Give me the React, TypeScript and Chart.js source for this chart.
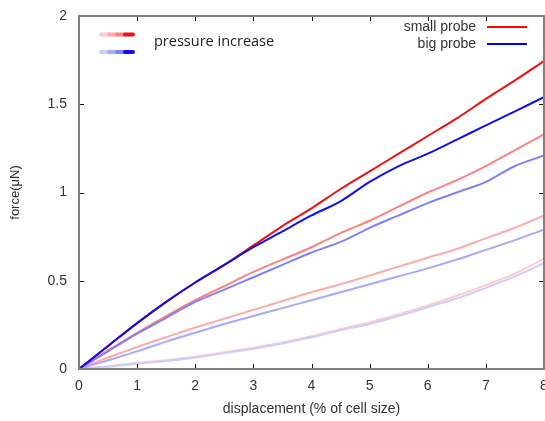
import { useEffect, useRef } from "react";
import { Chart, registerables } from "chart.js";

Chart.register(...registerables);

const displacement = [0, 0.5, 1, 1.5, 2, 2.5, 3, 3.5, 4, 4.5, 5, 5.5, 6, 6.5, 7, 7.5, 8];

// small probe (red), pressure levels 1 (lowest) .. 4 (highest)
const smallP4 = [0, 0.13, 0.26, 0.38, 0.49, 0.59, 0.7, 0.81, 0.91, 1.02, 1.12, 1.22, 1.32, 1.42, 1.53, 1.635, 1.745];
const smallP3 = [0, 0.105, 0.205, 0.3, 0.39, 0.47, 0.55, 0.62, 0.69, 0.77, 0.84, 0.92, 1.0, 1.07, 1.15, 1.24, 1.33];
const smallP2 = [0, 0.065, 0.125, 0.18, 0.235, 0.285, 0.335, 0.385, 0.435, 0.48, 0.53, 0.58, 0.63, 0.68, 0.74, 0.8, 0.87];
const smallP1 = [0, 0.015, 0.035, 0.05, 0.07, 0.095, 0.12, 0.15, 0.185, 0.225, 0.265, 0.31, 0.36, 0.415, 0.475, 0.54, 0.625];

// big probe (blue)
const bigP4 = [0, 0.13, 0.26, 0.38, 0.49, 0.59, 0.69, 0.78, 0.87, 0.95, 1.06, 1.15, 1.22, 1.3, 1.38, 1.46, 1.54];
const bigP3 = [0, 0.1, 0.2, 0.29, 0.38, 0.45, 0.52, 0.59, 0.66, 0.72, 0.8, 0.87, 0.94, 1.0, 1.06, 1.15, 1.21];
const bigP2 = [0, 0.05, 0.1, 0.155, 0.205, 0.255, 0.3, 0.345, 0.39, 0.435, 0.48, 0.525, 0.57, 0.62, 0.675, 0.73, 0.79];
const bigP1 = [0, 0.013, 0.03, 0.045, 0.065, 0.09, 0.115, 0.145, 0.18, 0.22, 0.255, 0.3, 0.35, 0.4, 0.46, 0.525, 0.6];

const xTicks = [0, 1, 2, 3, 4, 5, 6, 7, 8];
const yTicks = [0, 0.5, 1, 1.5, 2];

const redShades = ["#ffcccc", "#ffaaaa", "#ff8080", "#f01010"];
const blueShades = ["#ccccff", "#a8a8ff", "#8080ff", "#1010ee"];

const FONT = "'Liberation Sans', Arial, sans-serif";

const toPts = (ys: number[]) => ys.map((y, i) => ({ x: displacement[i], y }));

const framePlugin = {
  id: "frame",
  afterDatasetsDraw(chart: any) {
    const { ctx, chartArea: a, scales } = chart;
    const xs = scales.x;
    const ys = scales.y;
    ctx.save();
    ctx.strokeStyle = "#111";
    ctx.lineWidth = 1;
    ctx.beginPath();
    xTicks.forEach((t) => {
      const px = Math.round(xs.getPixelForValue(t)) + 0.5;
      ctx.moveTo(px, a.bottom);
      ctx.lineTo(px, a.bottom - 5);
      ctx.moveTo(px, a.top);
      ctx.lineTo(px, a.top + 5);
    });
    yTicks.forEach((t) => {
      const py = Math.round(ys.getPixelForValue(t)) + 0.5;
      ctx.moveTo(a.left, py);
      ctx.lineTo(a.left + 5, py);
      ctx.moveTo(a.right, py);
      ctx.lineTo(a.right - 5, py);
    });
    ctx.stroke();
    ctx.strokeStyle = "#808080";
    ctx.lineWidth = 2;
    ctx.strokeRect(a.left, a.top, a.right - a.left, a.bottom - a.top);

    // legend right
    ctx.font = `14px ${FONT}`;
    ctx.fillStyle = "#333";
    ctx.textAlign = "right";
    ctx.textBaseline = "middle";
    ctx.fillText("small probe", 476, 27);
    ctx.fillText("big probe", 476, 44);
    ctx.lineWidth = 2;
    ctx.strokeStyle = "#ff0000";
    ctx.beginPath();
    ctx.moveTo(487, 27);
    ctx.lineTo(527, 27);
    ctx.stroke();
    ctx.strokeStyle = "#0000ff";
    ctx.beginPath();
    ctx.moveTo(487, 44);
    ctx.lineTo(527, 44);
    ctx.stroke();

    // legend left: pressure gradient
    ctx.lineWidth = 4;
    ctx.lineCap = "round";
    const segs = [101, 109, 117, 125, 133];
    const drawGrad = (shades: string[], y: number) => {
      shades.forEach((c, i) => {
        ctx.strokeStyle = c;
        ctx.beginPath();
        ctx.moveTo(segs[i], y);
        ctx.lineTo(segs[i + 1], y);
        ctx.stroke();
      });
    };
    drawGrad(redShades, 34.5);
    drawGrad(blueShades, 52);
    ctx.font = `14.5px 'Open Sans', sans-serif`;
    ctx.fillStyle = "#222";
    ctx.textAlign = "left";
    ctx.fillText("pressure increase", 154, 42);
    ctx.restore();
  },
};

export default function App() {
  const ref = useRef<HTMLCanvasElement | null>(null);

  useEffect(() => {
    if (!ref.current) return;
    const ds = (label: string, data: number[], color: string) => ({
      label,
      data: toPts(data),
      borderColor: color,
      backgroundColor: color,
      borderWidth: 2,
      pointRadius: 0,
      tension: 0.3,
      fill: false,
    });
    const chart = new Chart(ref.current, {
      type: "line",
      data: {
        datasets: [
          ds("big probe 4", bigP4, blueShades[3]),
          ds("small probe 4", smallP4, redShades[3]),
          ds("big probe 3", bigP3, blueShades[2]),
          ds("small probe 3", smallP3, redShades[2]),
          ds("big probe 2", bigP2, blueShades[1]),
          ds("small probe 2", smallP2, redShades[1]),
          ds("big probe 1", bigP1, blueShades[0]),
          ds("small probe 1", smallP1, redShades[0]),
        ],
      },
      options: {
        animation: false,
        responsive: false,
        layout: { padding: { left: 0, right: 1, top: 16, bottom: 0 } },
        plugins: { legend: { display: false }, tooltip: { enabled: false } },
        scales: {
          x: {
            type: "linear",
            min: 0,
            max: 8,
            grid: { display: false, drawTicks: false },
            border: { display: false },
            afterBuildTicks: (s: any) => {
              s.ticks = xTicks.map((v) => ({ value: v }));
            },
            afterFit: (s: any) => {
              s.height = 52;
              s.paddingLeft = 0;
              s.paddingRight = 0;
            },
            ticks: {
              padding: 9,
              color: "#333",
              font: { family: FONT, size: 14 },
              maxRotation: 0,
              autoSkip: false,
            },
            title: {
              display: true,
              text: "displacement (% of cell size)",
              color: "#333",
              font: { family: FONT, size: 14 },
              padding: { top: 0, bottom: 3 },
            },
          },
          y: {
            type: "linear",
            min: 0,
            max: 2,
            grid: { display: false, drawTicks: false },
            border: { display: false },
            afterBuildTicks: (s: any) => {
              s.ticks = yTicks.map((v) => ({ value: v }));
            },
            afterFit: (s: any) => {
              s.width = 79;
              s.paddingTop = 0;
              s.paddingBottom = 0;
            },
            ticks: {
              padding: 12,
              color: "#333",
              font: { family: FONT, size: 14 },
              callback: (v: any) => String(v),
            },
            title: {
              display: true,
              text: "force(μN)",
              color: "#333",
              font: { family: FONT, size: 13 },
              padding: { top: 8, bottom: 0 },
            },
          },
        },
      },
      plugins: [framePlugin],
    });
    return () => chart.destroy();
  }, []);

  return (
    <div style={{ position: "absolute", left: 0, top: 0, width: 545, height: 421, background: "#fff" }}>
      <canvas ref={ref} width={545} height={421} />
    </div>
  );
}
